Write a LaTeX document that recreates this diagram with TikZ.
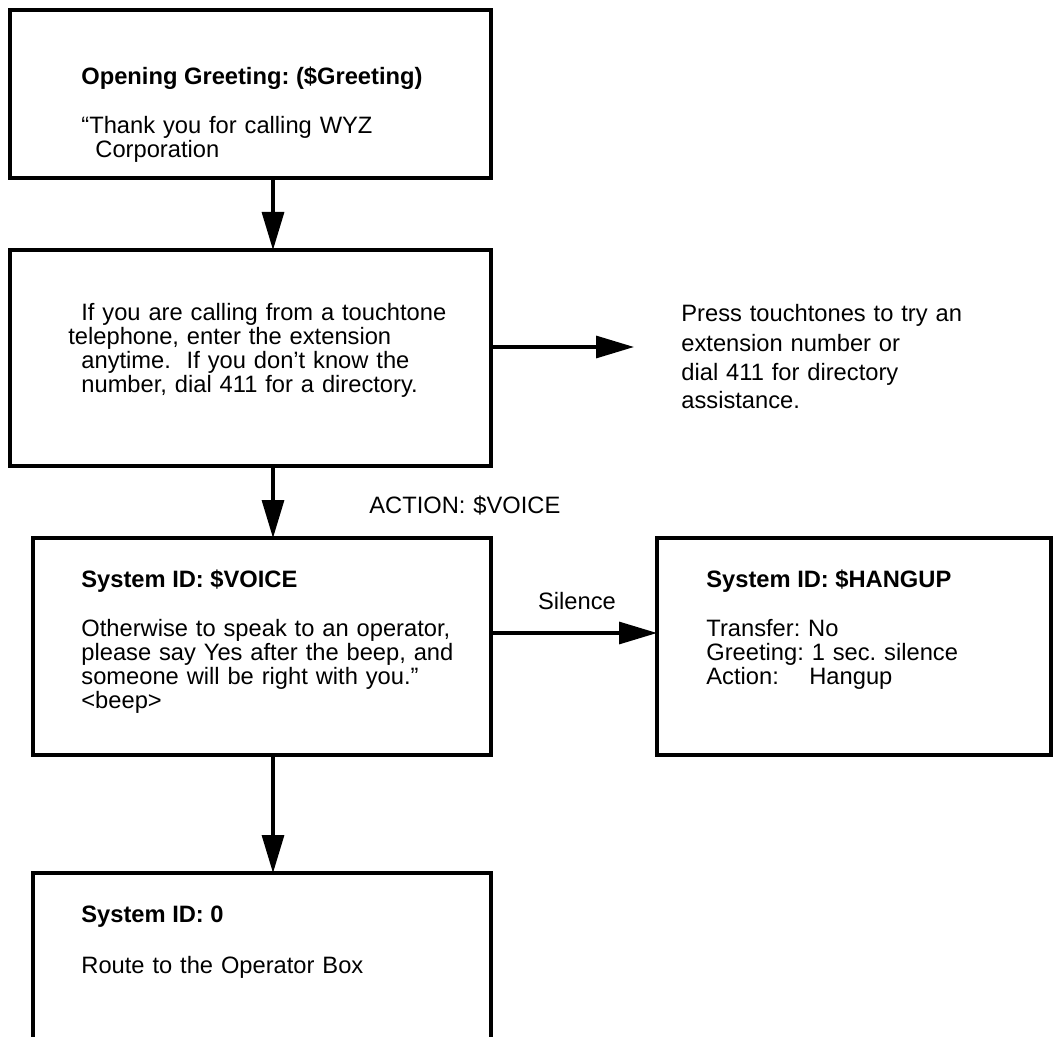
\documentclass[tikz,border=0pt]{standalone}
\usepackage{fontspec}
\setmainfont{Liberation Sans}
\usetikzlibrary{arrows.meta,positioning}
\frenchspacing

\tikzset{
  box/.style={draw, line width=1.7pt, inner sep=0pt, outer sep=0pt, anchor=north west},
  txt/.style={anchor=base west, inner sep=0pt, align=left, text width=210pt,
    font=\fontsize{11.85}{12}\selectfont},
  ttl/.style={anchor=base west, inner sep=0pt, font=\fontsize{11.85}{12}\selectfont\bfseries},
  arr/.style={-{Triangle[length=19pt,width=11pt]}, line width=1.6pt},
}

\begin{document}
\begin{tikzpicture}[x=0.5pt, y=-0.5pt]
    \useasboundingbox (0,0) rectangle (1054,1037);

    % boxes
    \node[box, minimum width=240.5pt, minimum height=84pt] (greet) at (10,10) {};
    \node[box, minimum width=240.5pt, minimum height=108pt] (touch) at (10,250) {};
    \node[box, minimum width=229pt, minimum height=108.5pt] (voice) at (33,538) {};
    \node[box, minimum width=197pt, minimum height=108.5pt] (hangup) at (657,538) {};
    \node[box, minimum width=229pt, minimum height=90pt] (oper) at (33,873) {};

    % texts
    \node[ttl] (greettitle) at (81,85) {Opening Greeting: (\$Greeting)};
    \node[txt] (greettext) at (81,134) {“Thank you for calling WYZ\\\hspace*{7pt}Corporation};

    \node[txt] (touchtext) at (81,321) {If you are calling from a touchtone\\\hspace*{-6.5pt}telephone, enter the extension\\anytime.\ \ If you don’t know the\\number, dial 411 for a directory.};
    \node[txt, font=\fontsize{11.85}{14.5}\selectfont] (presstext) at (681,322) {Press touchtones to try an\\extension number or\\dial 411 for directory\\assistance.};

    \node[txt] (actionlbl) at (369,513) {ACTION: \$VOICE};

    \node[ttl] (voicetitle) at (81,587) {System ID: \$VOICE};
    \node[txt] (voicetext) at (81,636) {Otherwise to speak to an operator,\\please say Yes after the beep, and\\someone will be right with you.”\\<beep>};

    \node[anchor=base, inner sep=0pt, font=\fontsize{11.85}{12}\selectfont] (silencelbl) at (577,609) {Silence};

    \node[ttl] (hanguptitle) at (706,587) {System ID: \$HANGUP};
    \node[txt] (hanguptext) at (706,636) {Transfer: No\\Greeting: 1 sec. silence\\\makebox[51.5pt][l]{Action:}Hangup};

    \node[ttl] (opertitle) at (81,922) {System ID: 0};
    \node[txt] (opertext) at (81,973) {Route to the Operator Box};

    % arrows
    \coordinate (presstip) at (634,347);
    \draw[arr] ([xshift=11.25pt]greet.south) -- ([xshift=11.25pt]touch.north);
    \draw[arr] ([yshift=5.5pt]touch.east) -- (presstip);
    \draw[arr] ([xshift=11.25pt]touch.south) -- ([xshift=5.5pt]voice.north);
    \draw[arr] ([yshift=6.75pt]voice.east) -- ([yshift=6.75pt]hangup.west);
    \draw[arr] ([xshift=5.5pt]voice.south) -- ([xshift=5.5pt]oper.north);
\end{tikzpicture}
\end{document}
